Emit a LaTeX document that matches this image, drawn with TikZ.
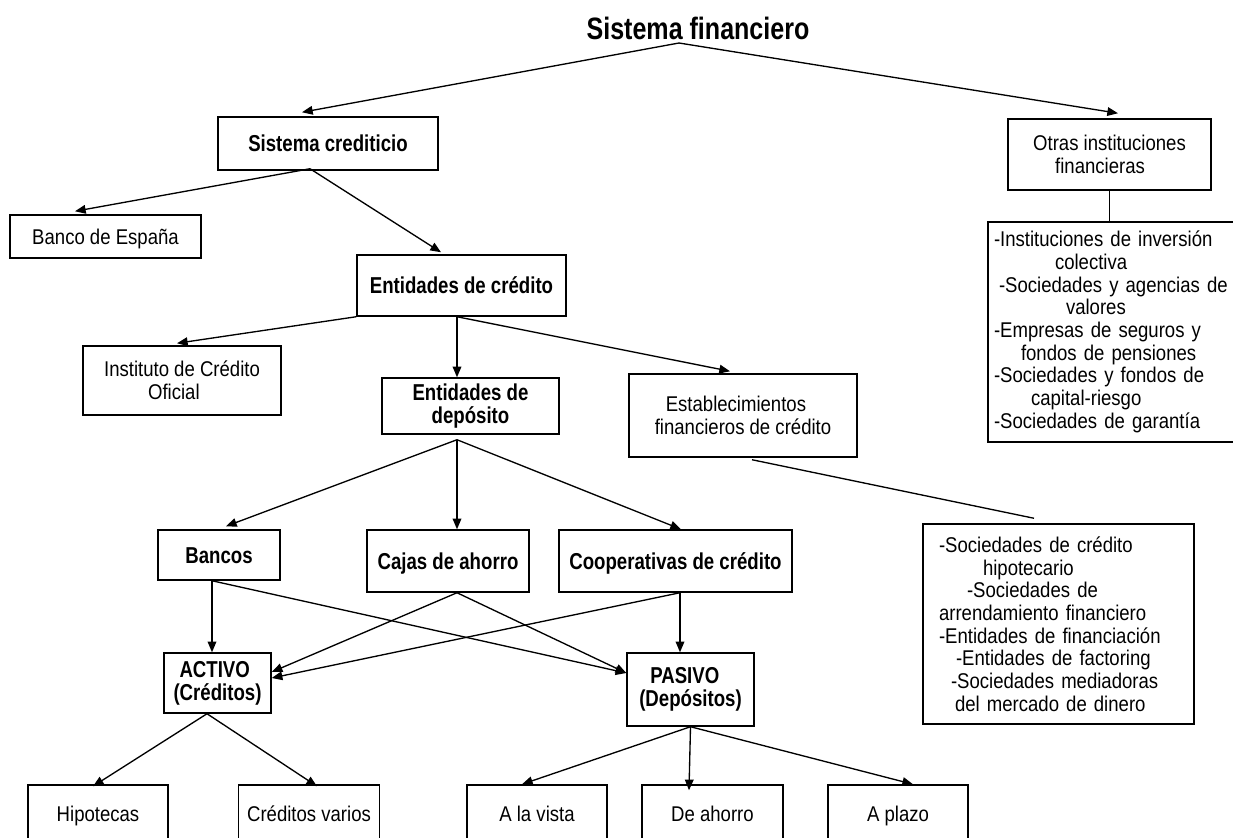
\documentclass[tikz,border=0pt]{standalone}
\usepackage{fontspec}
\setmainfont{Liberation Sans}[FakeStretch=0.87,BoldFeatures={FakeStretch=0.81}]
\usepackage{tikz}
\usetikzlibrary{arrows.meta,calc,positioning}
\newlength{\pxu}
\setlength{\pxu}{0.75pt}
\tikzset{box size/.style 2 args={minimum width=#1*0.75pt,minimum height=#2*0.75pt}}

\begin{document}
\begin{tikzpicture}[x=0.75pt,y=-0.75pt,>={Triangle[length=8pt,width=6.5pt]},
  line width=1pt,
  box node/.style={draw,line width=1.1pt,inner sep=0pt,align=center,font=\fontsize{16}{17}\selectfont},
  bold node/.style={box node,font=\fontsize{17.25}{17.25}\selectfont\bfseries},
  one line/.style={text height=14.5pt,text depth=3pt},
  one bold line/.style={text height=15.4pt,text depth=3pt}]

  \useasboundingbox (0,0) rectangle (1233,838);
  \clip (0,0) rectangle (1233,838);

  \node[font=\fontsize{23.2}{27}\selectfont\bfseries] (sf) at (698,28) {Sistema financiero};
  \coordinate (apex) at (679,43);

  \node[bold node,one bold line,box size={220}{53}] (cred) at (328,143.5) {Sistema crediticio};
  \node[box node,one line,box size={191}{43}] (bde) at (105.5,236.5) {Banco de España};
  \node[bold node,one bold line,box size={209}{61}] (entcred) at (461.5,285.5) {Entidades de crédito};
  \node[box node,box size={198}{69},align=left] (ico) at (182,380.5)
    {Instituto de Crédito\\\hspace*{44\pxu}Oficial};
  \node[bold node,box size={177}{56}] (entdep) at (470.5,406) {Entidades de\\depósito};
  \node[box node,box size={228}{83},align=left] (efc) at (743,415.5)
    {\hspace*{11\pxu}Establecimientos\\financieros de crédito};

  \node[box node,box size={203}{71},align=left] (otras) at (1109.5,154.5)
    {Otras instituciones\\\hspace*{22\pxu}financieras};
  \node[box node,box size={255}{220},align=left,text width=243\pxu,inner xsep=6\pxu] (oif) at (1115.5,332)
    {-Instituciones de inversión\\
     \hspace*{61\pxu}colectiva\\
     \hspace*{5\pxu}-Sociedades y agencias de\\
     \hspace*{72\pxu}valores\\
     -Empresas de seguros y\\
     \hspace*{27\pxu}fondos de pensiones\\
     -Sociedades y fondos de\\
     \hspace*{37\pxu}capital-riesgo\\
     -Sociedades de garantía};
  \node[box node,box size={271}{200},align=left,text width=239\pxu,inner xsep=16\pxu] (efcl) at (1058.5,624)
    {-Sociedades de crédito\\
     \hspace*{44\pxu}hipotecario\\
     \hspace*{28\pxu}-Sociedades de\\
     arrendamiento financiero\\
     -Entidades de financiación\\
     \hspace*{17\pxu}-Entidades de factoring\\
     \hspace*{12\pxu}-Sociedades mediadoras\\
     \hspace*{16\pxu}del mercado de dinero};

  \node[bold node,one bold line,box size={122}{50}] (bancos) at (219,555) {Bancos};
  \node[bold node,one bold line,box size={162}{62}] (cajas) at (448,561) {Cajas de ahorro};
  \node[bold node,one bold line,box size={233}{62}] (coop) at (675.5,561) {Cooperativas de crédito};

  \node[bold node,box size={107}{60},align=left] (activo) at (217.5,683)
    {\hspace*{6\pxu}ACTIVO\\(Créditos)};
  \node[bold node,box size={127}{73},align=left] (pasivo) at (690.5,689.5)
    {\hspace*{11\pxu}PASIVO\\(Depósitos)};

  \node[box node,one line,box size={140}{58}] (hipo) at (98,814) {Hipotecas};
  \node[box node,one line,box size={141}{58}] (cvar) at (309,814) {Créditos varios};
  \node[box node,one line,box size={140}{58}] (vista) at (537,814) {A la vista};
  \node[box node,one line,box size={141}{58}] (ahorro) at (712.5,814) {De ahorro};
  \node[box node,one line,box size={140}{58}] (plazo) at (898,814) {A plazo};

  \coordinate (c1) at ($(cred.south)+(-18,-2)$);
  \coordinate (c2) at ($(entcred.south)+(-4.5,0)$);
  \coordinate (c3) at ($(entdep.south)+(-13.5,5)$);
  \coordinate (c4) at ($(bancos.south)+(-7,0)$);
  \coordinate (c5) at ($(cajas.south)+(9,0)$);
  \coordinate (c6) at ($(coop.south)+(4.5,0)$);
  \coordinate (c7) at ($(activo.south)+(-10.5,0)$);

  \path[->]
    (apex) edge ($(cred.north)+(-26,-4)$)
    (apex) edge ($(otras.north)+(8.5,-5)$)

    (c1) edge ($(bde.north)+(-30.5,-3)$)
    (c1) edge ($(entcred.north)+(-20.5,-2)$)

    (entcred.south west) edge ($(ico.north)+(-5,-2)$)
    (c2) edge (c2 |- entdep.north)
    (c2) edge ($(efc.north)+(-13,-2)$)

    (c3) edge ($(bancos.north)+(7,-3)$)
    (c3) edge (c3 |- cajas.north)
    (c3) edge ($(coop.north)+(5.5,0)$)

    (c4) edge (c4 |- activo.north)
    (c4) edge ($(pasivo.west)+(0,-16.5)$)
    (c5) edge ($(activo.east)+(0,-11)$)
    (c5) edge ($(pasivo.west)+(0,-16.5)$)
    (c6) edge (c6 |- pasivo.north)
    (c6) edge ($(activo.east)+(0,-5)$)

    (c7) edge ($(hipo.north)+(-5,2)$)
    (c7) edge ($(cvar.north)+(8,2)$)

    (pasivo.south) edge ($(vista.north)+(-15,0)$)
    (pasivo.south) edge ($(ahorro.north)+(-23.5,6)$)
    (pasivo.south) edge ($(plazo.north)+(15,0)$)
    ;

  \draw (otras.south) -- (otras.south |- oif.north);
  \draw ($(efc.south)+(9,2)$) -- ($(efcl.north)+(-24.5,-5)$);

\end{tikzpicture}
\end{document}
